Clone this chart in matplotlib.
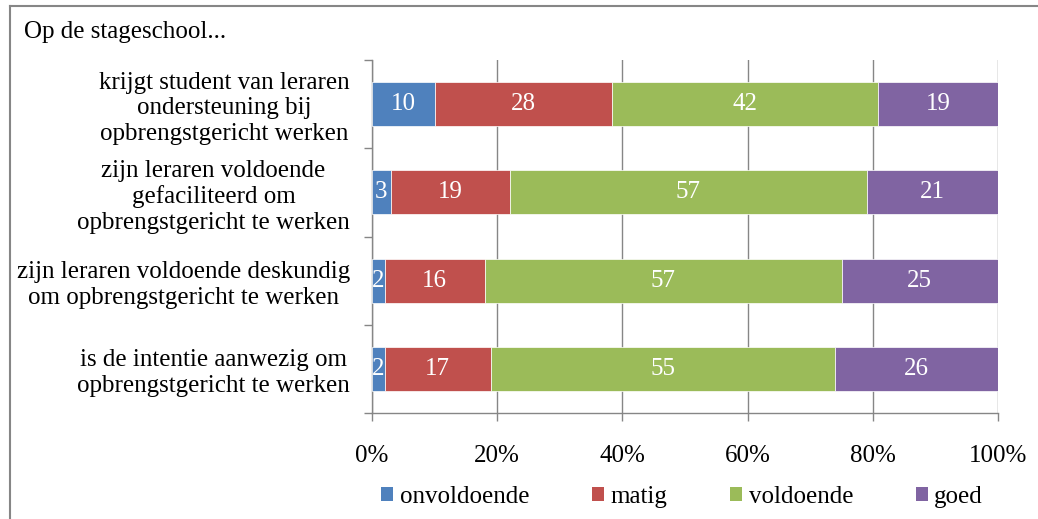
import matplotlib
matplotlib.use("Agg")
import matplotlib.pyplot as plt
import numpy as np
from matplotlib.lines import Line2D
from matplotlib.patches import Patch

plt.rcParams['font.family'] = ['Liberation Serif', 'DejaVu Serif']

categories = [
    "krijgt student van leraren\nondersteuning bij\nopbrengstgericht werken",
    "zijn leraren voldoende\ngefaciliteerd om\nopbrengstgericht te werken",
    "zijn leraren voldoende deskundig\nom opbrengstgericht te werken",
    "is de intentie aanwezig om\nopbrengstgericht te werken",
]
series_names = ["onvoldoende", "matig", "voldoende", "goed"]
onvoldoende = [10, 3, 2, 2]
matig = [28, 19, 16, 17]
voldoende = [42, 57, 57, 55]
goed = [19, 21, 25, 26]
colors = ["#4F81BD", "#C0504D", "#9BBB59", "#8064A2"]
xticklabels = ["0%", "20%", "40%", "60%", "80%", "100%"]

FS = 18

data = np.array([onvoldoende, matig, voldoende, goed], dtype=float)
totals = data.sum(axis=0)
pct = data / totals * 100

fig = plt.figure(figsize=(10.38, 5.19), dpi=100)
ax = fig.add_axes([372/1038, 1-413/519, (998-372)/1038, (413-60)/519])

y = np.arange(len(categories))
left = np.zeros(len(categories))
for i, name in enumerate(series_names):
    ax.barh(y, pct[i], left=left, height=0.5, color=colors[i],
            edgecolor='white', linewidth=0.5, label=name, zorder=3)
    for j in range(len(categories)):
        ax.text(left[j] + pct[i][j] / 2, y[j], f"{int(data[i][j])}",
                ha='center', va='center', color='white', fontsize=FS, zorder=4)
    left += pct[i]

ax.set_xlim(0, 100)
ax.set_ylim(len(categories) - 0.5, -0.5)
ax.set_xticks(np.linspace(0, 100, 6))
ax.set_xticklabels(xticklabels, fontsize=FS)
ax.set_yticks(y)
ax.set_yticklabels(categories, fontsize=FS, multialignment='center', linespacing=1.2)
ax.tick_params(axis='y', which='major', length=0, pad=16)
ax.set_yticks(np.arange(-0.5, len(categories), 1), minor=True)
ax.tick_params(axis='y', which='minor', length=6, color='#868686', width=1)
ax.tick_params(axis='x', which='major', length=6, color='#868686', width=1,
               direction='out', pad=17)
ax.xaxis.grid(True, color='#868686', linewidth=1, zorder=0)
for s in ['top', 'right']:
    ax.spines[s].set_visible(False)
for s in ['left', 'bottom']:
    ax.spines[s].set_color('#868686')
    ax.spines[s].set_linewidth(1)

fig.text(24/1038, 1-32/519, "Op de stageschool...", fontsize=FS, ha='left', va='center')

handles = [Patch(facecolor=c, edgecolor='none') for c in colors]
fig.legend(handles, series_names, loc='center', bbox_to_anchor=(682/1038, 1-497/519),
           ncol=4, frameon=False, fontsize=FS, handlelength=0.5, handleheight=0.5,
           handletextpad=0.25, columnspacing=2.5)

# outer frame (top and left visible)
fig.add_artist(Line2D([9.5/1038, 1.0], [1-6/519, 1-6/519], transform=fig.transFigure,
                      color='#868686', linewidth=1.5))
fig.add_artist(Line2D([9.5/1038, 9.5/1038], [0, 1-6/519], transform=fig.transFigure,
                      color='#868686', linewidth=1.5))

fig.savefig("out.png", dpi=100)
